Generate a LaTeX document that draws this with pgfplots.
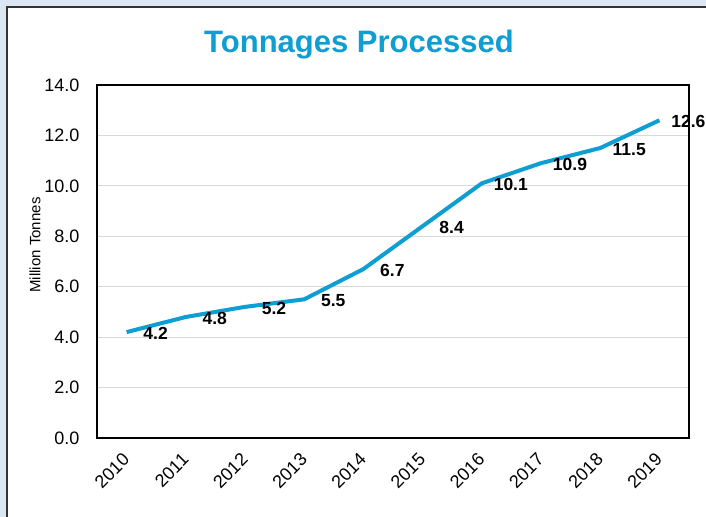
\documentclass[border=0pt]{standalone}
\usepackage{pgfplots}
\pgfplotsset{compat=1.18}
\usepackage{fontspec}
\setmainfont{Liberation Sans}
\definecolor{bgblue}{RGB}{220,230,242}
\definecolor{linecol}{RGB}{14,158,210}
\definecolor{gridcol}{RGB}{217,217,217}
\begin{document}
\begin{tikzpicture}
\fill[bgblue] (0,0) rectangle (706bp,517bp);
\fill[white] (7bp,0) rectangle (706bp,510bp);
\draw[line width=1.8bp, black!80] (7bp,-2bp) -- (7bp,510bp) -- (708bp,510bp);
\node[font=\fontsize{31bp}{36bp}\selectfont\bfseries, text=linecol] at (359bp,472bp) {Tonnages Processed};
\node[rotate=90, font=\fontsize{15bp}{18bp}\selectfont] at (35bp,272bp) {Million Tonnes};
\begin{axis}[
  at={(97bp,79bp)}, anchor=south west,
  scale only axis, width=592bp, height=353bp,
  xmin=-0.5, xmax=9.5, ymin=0, ymax=14,
  xtick={0,...,9},
  xticklabels={2010,2011,2012,2013,2014,2015,2016,2017,2018,2019},
  ytick={0,2,...,14},
  major tick length=0pt,
  ymajorgrids,
  grid style={gridcol, line width=1bp},
  axis line style={black, line width=1.6bp},
  tick label style={font=\fontsize{18bp}{21bp}\selectfont},
  yticklabel style={xshift=-14bp},
  xticklabel style={xshift=2bp, yshift=-16bp, rotate=45, anchor=east},
  /pgf/number format/.cd, fixed, fixed zerofill, precision=1, assume math mode=true,
  /pgfplots/.cd,
  clip=false,
  nodes near coords,
  every node near coord/.append style={anchor=center, xshift=29bp, yshift=-1.5bp, font=\fontsize{17.5bp}{20bp}\selectfont\bfseries, text=black},
]
\addplot[linecol, line width=4bp, mark=none] coordinates {
(0,4.2) (1,4.8) (2,5.2) (3,5.5) (4,6.7) (5,8.4) (6,10.1) (7,10.9) (8,11.5) (9,12.6)
};
\end{axis}
\pgfresetboundingbox
\useasboundingbox (0,0) rectangle (706bp,517bp);
\end{tikzpicture}
\end{document}
